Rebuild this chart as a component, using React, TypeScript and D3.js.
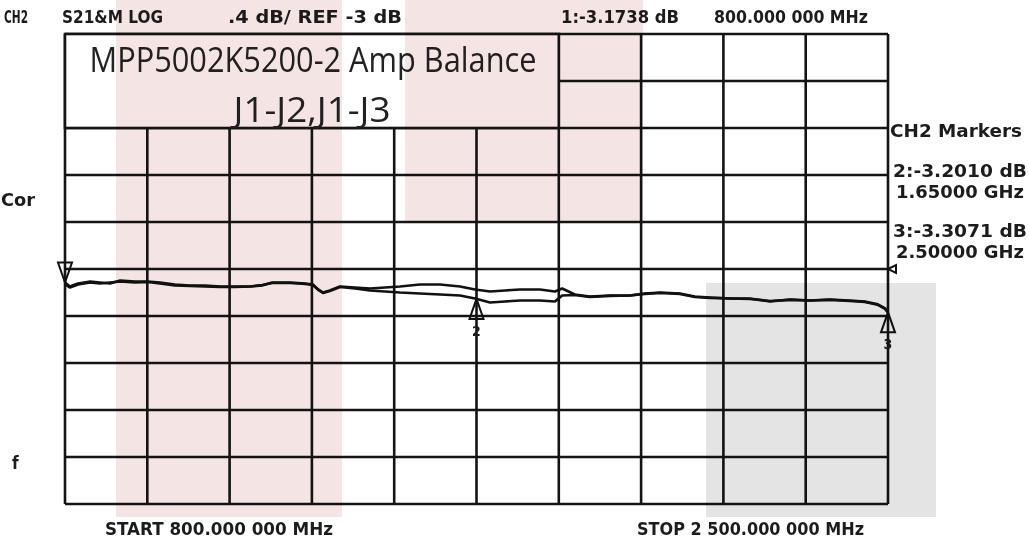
import React from 'react';
import * as d3 from 'd3';

// frequency points (MHz) read along the trace
const freqMHz = [800, 810, 827, 852, 872, 893, 914, 945, 971, 996, 1027, 1058, 1089, 1120, 1151, 1182, 1207, 1228, 1265, 1296, 1312, 1323, 1333, 1347, 1368, 1399, 1430, 1461, 1492, 1533, 1575, 1616, 1647, 1678, 1709, 1740, 1781, 1812, 1827, 1853, 1884, 1926, 1967, 1998, 2029, 2070, 2101, 2132, 2174, 2215, 2256, 2298, 2339, 2380, 2421, 2452, 2479, 2494, 2500];

// S21 in dB, J1-J2 (upper trace)
const traceJ1J2 = [-3.115, -3.149, -3.123, -3.106, -3.115, -3.123, -3.098, -3.106, -3.106, -3.115, -3.132, -3.140, -3.140, -3.149, -3.149, -3.149, -3.140, -3.115, -3.115, -3.123, -3.132, -3.174, -3.200, -3.183, -3.149, -3.157, -3.166, -3.157, -3.149, -3.132, -3.132, -3.149, -3.174, -3.191, -3.183, -3.174, -3.174, -3.191, -3.166, -3.217, -3.234, -3.225, -3.225, -3.208, -3.200, -3.208, -3.234, -3.242, -3.251, -3.251, -3.276, -3.259, -3.268, -3.259, -3.268, -3.276, -3.301, -3.335, -3.369];

// S21 in dB, J1-J3 (lower trace)
const traceJ1J3 = [-3.132, -3.157, -3.132, -3.115, -3.123, -3.115, -3.106, -3.115, -3.110, -3.123, -3.140, -3.145, -3.149, -3.153, -3.153, -3.149, -3.136, -3.119, -3.119, -3.127, -3.136, -3.178, -3.204, -3.187, -3.153, -3.166, -3.183, -3.191, -3.200, -3.208, -3.217, -3.225, -3.251, -3.285, -3.276, -3.268, -3.268, -3.276, -3.225, -3.221, -3.238, -3.229, -3.225, -3.212, -3.204, -3.212, -3.238, -3.246, -3.251, -3.255, -3.272, -3.263, -3.268, -3.263, -3.272, -3.280, -3.305, -3.340, -3.369];

// markers: which trace they sit on
const markerFreq = [800, 1650, 2500];
const markerTrace = [0, 1, 1];
const markerLabels = ['1', '2', '3'];

const W = 1029, H = 538;
const x = d3.scaleLinear().domain([800, 2500]).range([65, 888]);
const y = d3.scaleLinear().domain([-5, -1]).range([504, 34]);
const xTicks = d3.range(0, 11).map(i => 800 + i * 170);
const yTicks = d3.range(0, 11).map(i => -5 + i * 0.4);

const line = d3.line<number>()
    .x((_, i) => x(freqMHz[i]))
    .y(d => y(d))
    .curve(d3.curveLinear);

const traces = [traceJ1J2, traceJ1J3];

function valueAt(tr: number[], f: number) {
    const i = d3.bisectLeft(freqMHz, f);
    if (i <= 0) return tr[0];
    if (i >= freqMHz.length) return tr[tr.length - 1];
    const t = (f - freqMHz[i - 1]) / (freqMHz[i] - freqMHz[i - 1]);
    return tr[i - 1] + t * (tr[i] - tr[i - 1]);
}

const inst = { fontFamily: '"DejaVu Sans Condensed", "DejaVu Sans", sans-serif', fontWeight: 'bold', fill: '#1c1c1c' } as const;

function Label({ x0, x1, yb, text, size = 17 }: { x0: number, x1: number, yb: number, text: string, size?: number }) {
    return <text x={x0} y={yb} textLength={x1 - x0} lengthAdjust="spacingAndGlyphs" fontSize={size} style={inst}>{text}</text>;
}

export default function App() {
    return (
        <div style={{ position: 'absolute', left: 0, top: 0 }}>
            <svg width={W} height={H} viewBox={`0 0 ${W} ${H}`}>
                <rect width={W} height={H} fill="#fff" />

                {/* grid */}
                <g stroke="#141414" strokeWidth={2.6}>
                    {xTicks.map(f => <line key={'v' + f} x1={x(f)} x2={x(f)} y1={y(-1)} y2={y(-5)} />)}
                    {yTicks.map(v => <line key={'h' + v} x1={x(800)} x2={x(2500)} y1={y(v)} y2={y(v)} />)}
                </g>

                {/* title box */}
                <rect x={x(800)} y={y(-1)} width={x(1820) - x(800)} height={y(-1.8) - y(-1)} fill="#fff" stroke="#141414" strokeWidth={2.6} />
                <text x={313} y={72} textAnchor="middle" fontFamily='"Open Sans", sans-serif' fontSize={34} fill="#222" textLength={447} lengthAdjust="spacingAndGlyphs">MPP5002K5200-2 Amp Balance</text>
                <text x={312} y={122} textAnchor="middle" fontFamily='"Open Sans", sans-serif' fontSize={34} fill="#222" textLength={157} lengthAdjust="spacingAndGlyphs">J1-J2,J1-J3</text>

                {/* traces */}
                {traces.map((tr, k) => (
                    <path key={k} d={line(tr) || ''} fill="none" stroke="#111" strokeWidth={2.6} strokeLinejoin="round" />
                ))}

                {/* reference marker */}
                <path d={`M${x(2500)},${y(-3)} l8,-4 l0,8 z`} fill="#fff" stroke="#111" strokeWidth={2} />

                {/* markers */}
                {markerFreq.map((f, i) => {
                    const mx = x(f);
                    const my = y(valueAt(traces[markerTrace[i]], f));
                    if (i === 0) {
                        return <path key={i} d={`M${mx - 7},${my - 20} L${mx + 7},${my - 20} L${mx},${my} Z`} fill="none" stroke="#111" strokeWidth={2} />;
                    }
                    return (
                        <g key={i}>
                            <path d={`M${mx},${my} L${mx - 7},${my + 20} L${mx + 7},${my + 20} Z`} fill="none" stroke="#111" strokeWidth={2} />
                            <text x={mx} y={my + 37} textAnchor="middle" fontSize={14} style={inst}>{markerLabels[i]}</text>
                        </g>
                    );
                })}

                {/* header */}
                <Label x0={4} x1={28} yb={23} text="CH2" />
                <Label x0={62} x1={163} yb={23} text="S21&M LOG" />
                <Label x0={228} x1={402} yb={23} text=".4 dB/ REF -3 dB" />
                <Label x0={561} x1={679} yb={23} text="1:-3.1738 dB" />
                <Label x0={714} x1={868} yb={23} text="800.000 000 MHz" />

                {/* right annotations */}
                <Label x0={890} x1={1022} yb={137} text="CH2 Markers" />
                <Label x0={893} x1={1027} yb={177} text="2:-3.2010 dB" />
                <Label x0={896} x1={1024} yb={198} text="1.65000 GHz" />
                <Label x0={893} x1={1027} yb={237} text="3:-3.3071 dB" />
                <Label x0={896} x1={1024} yb={258} text="2.50000 GHz" />

                {/* left annotations */}
                <Label x0={1} x1={35} yb={206} text="Cor" />
                <text x={12} y={469} fontSize={17} style={inst}>f</text>

                {/* footer */}
                <Label x0={105} x1={333} yb={535} text="START  800.000 000 MHz" />
                <Label x0={637} x1={864} yb={535} text="STOP 2 500.000 000 MHz" />

                {/* highlight overlays */}
                <g>
                    <rect x={116} y={0} width={226} height={517} fill="#f4e4e4" style={{ mixBlendMode: 'multiply' }} />
                    <rect x={405} y={0} width={238} height={222} fill="#f4e4e4" style={{ mixBlendMode: 'multiply' }} />
                    <rect x={706} y={283} width={230} height={234} fill="#e4e4e4" style={{ mixBlendMode: 'multiply' }} />
                </g>
            </svg>
        </div>
    );
}
